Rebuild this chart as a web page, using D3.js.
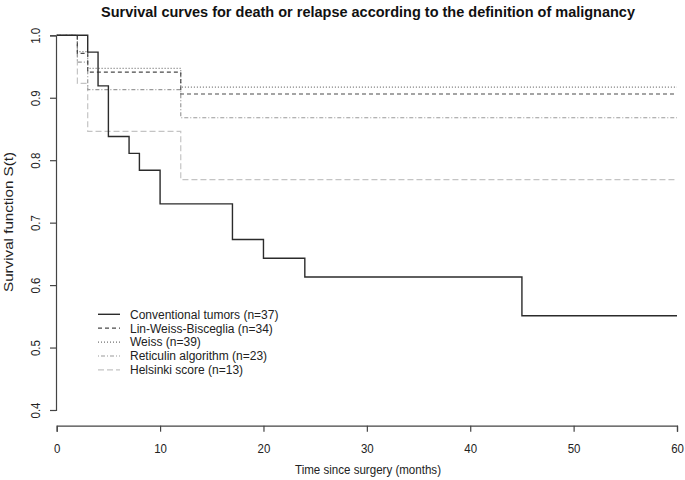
<!DOCTYPE html>
<html>
<head>
<meta charset="utf-8">
<script src="https://cdn.jsdelivr.net/npm/d3@7"></script>
<style>
  html, body { margin: 0; padding: 0; background: #fff; }
  svg { display: block; font-family: "Liberation Sans", Arial, Helvetica, sans-serif; }
</style>
</head>
<body>
<svg id="chart" width="685" height="480"></svg>
<script>
// ---- Data ----
const seriesNames = [
  "Conventional tumors (n=37)",
  "Lin-Weiss-Bisceglia (n=34)",
  "Weiss (n=39)",
  "Reticulin algorithm (n=23)",
  "Helsinki score (n=13)"
];
const conventionalTimes = [0, 3, 4, 5, 7, 8, 10, 17, 20, 24, 45, 60];
const conventionalSurv  = [1, 0.973, 0.919, 0.838, 0.811, 0.784, 0.730, 0.673, 0.643, 0.613, 0.551, 0.551];
const linWeissTimes = [0, 2, 3, 12, 60];
const linWeissSurv  = [1, 0.971, 0.941, 0.906, 0.906];
const weissTimes = [0, 2, 3, 12, 60];
const weissSurv  = [1, 0.974, 0.947, 0.917, 0.917];
const reticulinTimes = [0, 2, 3, 12, 60];
const reticulinSurv  = [1, 0.957, 0.913, 0.868, 0.868];
const helsinkiTimes = [0, 2, 3, 12, 60];
const helsinkiSurv  = [1, 0.923, 0.846, 0.769, 0.769];
const xTicks = [0, 10, 20, 30, 40, 50, 60];
const yTicks = [0.4, 0.5, 0.6, 0.7, 0.8, 0.9, 1.0];

const titleText = "Survival curves for death or relapse according to the definition of malignancy";
const xLabel = "Time since surgery (months)";
const yLabel = "Survival function S(t)";

// ---- Styles ----
const styles = [
  { color: "#2b2b2b", dash: null,       width: 1.4 },
  { color: "#4a4a4a", dash: "4,3",      width: 1.2 },
  { color: "#737373", dash: "1,2",      width: 1.2 },
  { color: "#9a9a9a", dash: "1,2,4,2",  width: 1.2 },
  { color: "#c4c4c4", dash: "6,3",      width: 1.2 }
];

const allTimes = [conventionalTimes, linWeissTimes, weissTimes, reticulinTimes, helsinkiTimes];
const allSurv = [conventionalSurv, linWeissSurv, weissSurv, reticulinSurv, helsinkiSurv];
const series = seriesNames.map((name, i) => ({
  name,
  points: allTimes[i].map((t, j) => ({ t, s: allSurv[i][j] })),
  style: styles[i]
}));

const svg = d3.select("#chart");
const x = d3.scaleLinear().domain([0, 60]).range([56.7, 677]);
const y = d3.scaleLinear().domain([0.4, 1.0]).range([410, 35.3]);
const xAxisY = 425.7;
const yAxisX = 56;

// Title
svg.append("text")
  .attr("x", 368).attr("y", 16.5)
  .attr("text-anchor", "middle")
  .attr("font-weight", "bold")
  .attr("font-size", 15.5)
  .attr("textLength", 534)
  .attr("lengthAdjust", "spacingAndGlyphs")
  .attr("fill", "#111")
  .text(titleText);

// X axis
const xAxis = d3.axisBottom(x).tickValues(xTicks).tickSize(6).tickPadding(0).tickFormat(d3.format("d"));
const gx = svg.append("g").attr("transform", `translate(0,${xAxisY})`).call(xAxis);
gx.select(".domain").attr("stroke", "#444").attr("stroke-width", 1.2);
gx.selectAll(".tick line").attr("stroke", "#444").attr("stroke-width", 1.2);
gx.selectAll(".tick text").remove();
gx.selectAll(".tick").append("text")
  .attr("transform", "translate(0,27) scale(0.85,1)")
  .attr("text-anchor", "middle")
  .attr("font-size", 13.5)
  .attr("fill", "#222")
  .text(d => d3.format("d")(d));

// Y axis
const yAxis = d3.axisLeft(y).tickValues(yTicks).tickSize(6).tickFormat(d3.format(".1f"));
const gy = svg.append("g").attr("transform", `translate(${yAxisX},0)`).call(yAxis);
gy.select(".domain").attr("stroke", "#444").attr("stroke-width", 1.2);
gy.selectAll(".tick line").attr("stroke", "#444").attr("stroke-width", 1.2);
gy.selectAll(".tick text").remove();
gy.selectAll(".tick").append("text")
  .attr("transform", "translate(-16,0) rotate(-90) scale(0.85,1)")
  .attr("text-anchor", "middle")
  .attr("font-size", 13.5)
  .attr("fill", "#222")
  .text(d => d3.format(".1f")(d));

// Axis titles
svg.append("text")
  .attr("x", 368).attr("y", 474)
  .attr("text-anchor", "middle")
  .attr("font-size", 13)
  .attr("textLength", 146)
  .attr("lengthAdjust", "spacingAndGlyphs")
  .attr("fill", "#222")
  .text(xLabel);
svg.append("text")
  .attr("transform", "translate(13,222) rotate(-90) scale(1,0.85)")
  .attr("text-anchor", "middle")
  .attr("font-size", 14.5)
  .attr("textLength", 140)
  .attr("lengthAdjust", "spacingAndGlyphs")
  .attr("fill", "#222")
  .text(yLabel);

// Curves (draw lighter first so solid on top)
const line = d3.line().x(d => x(d.t)).y(d => y(d.s)).curve(d3.curveStepAfter);
const order = [4, 3, 2, 1, 0];
order.forEach(i => {
  const s = series[i];
  svg.append("path")
    .datum(s.points)
    .attr("fill", "none")
    .attr("stroke", s.style.color)
    .attr("stroke-width", s.style.width)
    .attr("stroke-dasharray", s.style.dash)
    .attr("d", line);
});

// Legend
const legendY0 = 314.3, legendDy = 13.9;
const lg = svg.append("g");
series.forEach((s, i) => {
  const cy = legendY0 + i * legendDy;
  lg.append("line")
    .attr("x1", 98).attr("x2", 120)
    .attr("y1", cy).attr("y2", cy)
    .attr("stroke", s.style.color)
    .attr("stroke-width", s.style.width)
    .attr("stroke-dasharray", s.style.dash);
  lg.append("text")
    .attr("x", 130).attr("y", cy + 4.3)
    .attr("font-size", 12)
    .attr("fill", "#222")
    .text(s.name);
});
</script>
</body>
</html>
